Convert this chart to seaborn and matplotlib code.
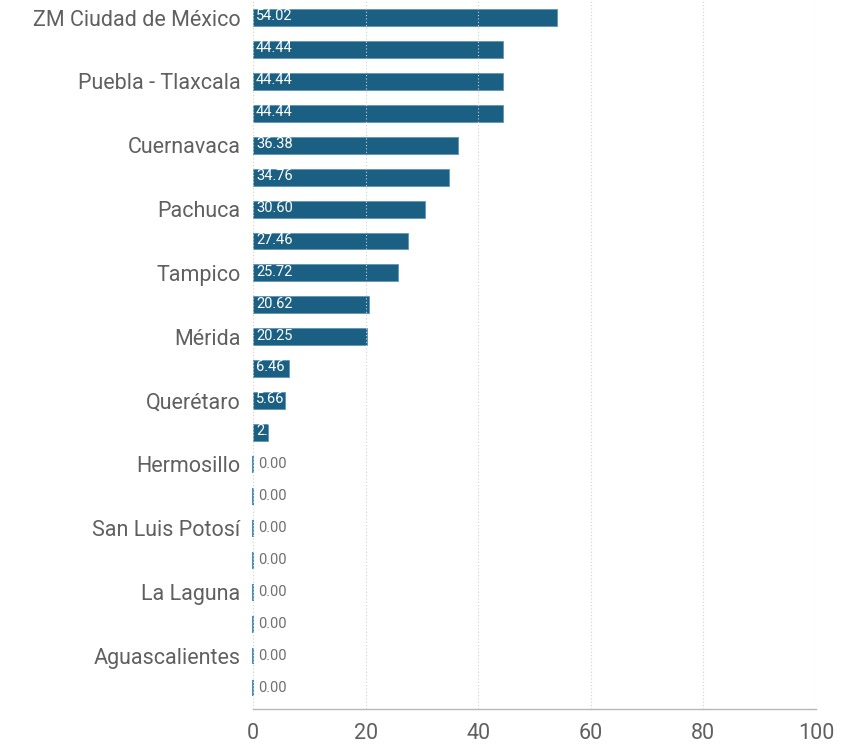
import matplotlib
matplotlib.use("Agg")
import matplotlib.pyplot as plt
import seaborn as sns
import pandas as pd

# Row labels: every city owns two consecutive bars, only the first one is named
cities = ["ZM Ciudad de México", "Puebla - Tlaxcala", "Cuernavaca", "Pachuca",
          "Tampico", "Mérida", "Querétaro", "Hermosillo", "San Luis Potosí",
          "La Laguna", "Aguascalientes"]
values = [54.02, 44.44, 44.44, 44.44, 36.38, 34.76, 30.60, 27.46, 25.72, 20.62,
          20.25, 6.46, 5.66, 2.7, 0.0, 0.0, 0.0, 0.0, 0.0, 0.0, 0.0, 0.0]
value_labels = ["54.02", "44.44", "44.44", "44.44", "36.38", "34.76", "30.60",
                "27.46", "25.72", "20.62", "20.25", "6.46", "5.66", "2.7",
                "0.00", "0.00", "0.00", "0.00", "0.00", "0.00", "0.00", "0.00"]
x_ticks = [0, 20, 40, 60, 80, 100]

tick_labels = []
for c in cities:
    tick_labels += [c, ""]

rows = [f"r{i:02d}" for i in range(len(values))]
df = pd.DataFrame({"fila": rows, "valor": values})

sns.set_theme(style="white")
plt.rcParams["font.family"] = ["Roboto", "DejaVu Sans"]

BAR = "#1b5f83"
EDGE = "#5a97ba"
TEXT = "#606060"

fig = plt.figure(figsize=(8.53, 7.44), dpi=100)
ax = fig.add_axes([0.2966, 0.047, 0.66, 0.953])

sns.barplot(data=df, x="valor", y="fila", order=rows, orient="h",
            color=BAR, saturation=1, width=0.53, edgecolor=EDGE,
            linewidth=0.6, ax=ax)

# keep the bar outlines whole at the origin; zero-length bars show as a thin line
for p in ax.patches:
    p.set_clip_on(False)
    if p.get_width() == 0:
        p.set_linewidth(1.5)
        p.set_edgecolor("#4b8fb8")

for i, (v, lab) in enumerate(zip(values, value_labels)):
    if v > 0:
        ax.text(0.55, i - 0.04, lab, color="white", fontsize=10.5, va="center",
                ha="left", zorder=5)
    else:
        ax.text(0.85, i, lab, color="#707070", fontsize=10.5, va="center",
                ha="left", zorder=5)

ax.set_xlim(0, 100)
ax.set_ylim(len(values) - 1 + 0.66, -0.55)
ax.set_xticks(x_ticks)
ax.set_xticklabels([str(t) for t in x_ticks])
ax.set_yticks(range(len(values)))
ax.set_yticklabels(tick_labels)
ax.set_xlabel("")
ax.set_ylabel("")

ax.set_axisbelow(False)
ax.xaxis.grid(True, linestyle=(0, (1, 2)), color="#d0d0d0", linewidth=0.8)
ax.yaxis.grid(False)

for s in ["top", "right", "left"]:
    ax.spines[s].set_visible(False)
ax.spines["bottom"].set_color("#b8b8b8")
ax.spines["bottom"].set_linewidth(1.0)

ax.tick_params(axis="both", length=0)
ax.tick_params(axis="x", pad=10, labelsize=15.5, labelcolor=TEXT)
ax.tick_params(axis="y", pad=9, labelsize=15.5, labelcolor=TEXT)

fig.savefig("out.png", dpi=100)
